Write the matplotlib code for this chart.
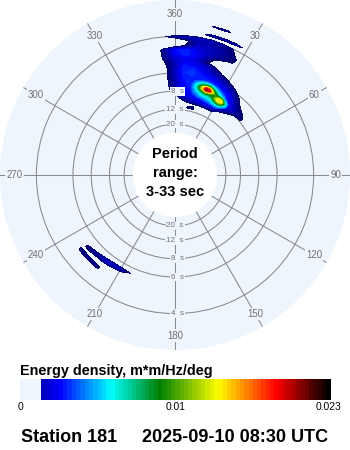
import numpy as np
import matplotlib
matplotlib.use("Agg")
import matplotlib.pyplot as plt
from matplotlib.colors import LinearSegmentedColormap, Normalize

# ------------------------------------------------------------------ data
station = "Station 181"
timestamp = "2025-09-10 08:30 UTC"
center_text = "Period\nrange:\n3-33 sec"
period_min, period_max = 3, 33            # s
energy_min, energy_max = 0.0, 0.023       # m*m/Hz/deg
energy_floor = 0.00155                    # lowest coloured level
cbar_title = "Energy density, m*m/Hz/deg"
cbar_tick_labels = ["0", "0.01", "0.023"]

ring_periods = [20, 12, 8, 6, 4]                       # s
top_ring_labels = [20, 12, 8]
bottom_ring_labels = [20, 12, 8, 6, 4]
spoke_dirs = [0, 30, 60, 90, 120, 150, 180, 210, 240, 270, 300, 330]
spoke_labels = ["360", "30", "60", "90", "120", "150", "180",
                "210", "240", "270", "300", "330"]

# NE wave system: directions (deg) x frequencies (Hz); energy in 1e-4 m*m/Hz/deg
ne_dirs = [-10, -5, 0, 5, 10, 15, 20, 25, 30, 35, 40, 45, 50, 55]
ne_freqs = [0.08, 0.09, 0.10, 0.11, 0.12, 0.13, 0.14, 0.15, 0.16, 0.17, 0.18,
            0.19, 0.20, 0.21, 0.22, 0.23, 0.24, 0.25, 0.256, 0.262, 0.268,
            0.276, 0.283, 0.29]
ne_energy = [
    [0, 0, 0, 0, 0, 0, 0, 0, 0, 0, 0, 0, 0, 0],            # 0.08
    [0, 0, 0, 0, 16, 18, 0, 0, 0, 0, 0, 0, 0, 0],          # 0.09
    [0, 0, 0, 5, 12, 14, 14, 14, 12, 5, 0, 0, 0, 0],       # 0.10
    [0, 0, 5, 20, 32, 36, 38, 40, 36, 16, 8, 0, 0, 0],     # 0.11
    [0, 5, 16, 34, 42, 45, 48, 48, 48, 40, 20, 8, 5, 0],   # 0.12
    [0, 11, 26, 38, 45, 48, 48, 48, 48, 45, 35, 23, 18, 0],  # 0.13
    [0, 13, 28, 42, 48, 48, 48, 48, 48, 45, 32, 20, 14, 0],  # 0.14
    [0, 13, 28, 44, 48, 48, 48, 48, 48, 42, 22, 12, 0, 0],   # 0.15
    [0, 13, 30, 46, 48, 48, 48, 45, 40, 30, 17, 5, 0, 0],    # 0.16
    [0, 13, 32, 48, 50, 45, 40, 35, 28, 18, 8, 0, 0, 0],     # 0.17
    [0, 13, 30, 48, 48, 40, 32, 25, 15, 8, 0, 0, 0, 0],      # 0.18
    [0, 15, 30, 42, 40, 35, 25, 10, 0, 0, 0, 0, 0, 0],       # 0.19
    [0, 20, 34, 40, 35, 18, 10, 5, 0, 0, 0, 0, 0, 0],        # 0.20
    [0, 22, 40, 48, 42, 28, 12, 0, 0, 0, 0, 0, 0, 0],        # 0.21
    [0, 22, 44, 48, 40, 32, 25, 18, 12, 0, 0, 0, 0, 0],      # 0.22
    [0, 0, 0, 18, 34, 32, 28, 22, 12, 0, 0, 0, 0, 0],        # 0.23
    [0, 0, 0, 12, 28, 28, 25, 20, 0, 0, 0, 0, 0, 0],         # 0.24
    [0, 13, 24, 28, 30, 28, 24, 16, 0, 0, 0, 0, 0, 0],       # 0.25
    [0, 0, 0, 0, 0, 0, 0, 0, 0, 0, 0, 0, 0, 0],              # 0.256
    [0, 0, 0, 0, 10, 24, 25, 24, 10, 0, 0, 0, 0, 0],         # 0.262
    [0, 0, 0, 0, 0, 0, 0, 0, 0, 0, 0, 0, 0, 0],              # 0.268
    [0, 0, 0, 0, 0, 0, 0, 0, 0, 0, 0, 0, 0, 0],              # 0.276
    [0, 0, 0, 0, 0, 18, 20, 0, 0, 0, 0, 0, 0, 0],            # 0.283
    [0, 0, 0, 0, 0, 0, 0, 0, 0, 0, 0, 0, 0, 0],              # 0.29
]

# NE energy peak, finer grid (only levels above core_floor are drawn)
core_floor = 0.0049
core_dirs = [10, 12.5, 15, 17.5, 20, 22.5, 25, 27.5, 30, 32.5, 35, 37.5, 40]
core_freqs = [0.110, 0.115, 0.120, 0.125, 0.130, 0.135, 0.140, 0.145, 0.150,
              0.155, 0.160]
core_energy = [
    [30, 32, 35, 38, 40, 42, 44, 44, 44, 40, 32, 26, 20],          # 0.110
    [38, 42, 46, 48, 50, 52, 55, 58, 60, 56, 44, 35, 28],          # 0.115
    [42, 48, 52, 56, 60, 63, 67, 76, 84, 76, 56, 40, 32],          # 0.120
    [44, 54, 62, 70, 74, 76, 82, 104, 130, 122, 76, 46, 36],       # 0.125
    [46, 60, 70, 84, 92, 92, 100, 132, 158, 155, 94, 48, 38],      # 0.130
    [48, 64, 84, 105, 130, 125, 110, 118, 145, 135, 74, 46, 36],   # 0.135
    [48, 70, 100, 150, 212, 200, 140, 100, 82, 66, 50, 42, 34],    # 0.140
    [48, 68, 95, 140, 190, 178, 115, 86, 66, 54, 44, 38, 32],      # 0.145
    [46, 60, 78, 98, 112, 104, 80, 62, 52, 46, 40, 35, 30],        # 0.150
    [44, 52, 60, 68, 72, 66, 56, 50, 46, 42, 38, 34, 30],          # 0.155
    [40, 42, 44, 46, 48, 46, 44, 42, 40, 38, 35, 32, 30],          # 0.160
]

# SW wave system
sw_dirs = [195, 200, 205, 210, 215, 220, 225, 230, 235, 240]
sw_freqs = [0.170, 0.175, 0.180, 0.185, 0.190, 0.195, 0.200, 0.205, 0.210,
            0.215, 0.220]
sw_energy = [
    [0, 0, 0, 0, 0, 0, 0, 0, 0, 0],        # 0.170
    [0, 0, 0, 0, 0, 0, 0, 0, 0, 0],        # 0.175
    [0, 0, 17, 28, 27, 14, 0, 0, 0, 0],    # 0.180
    [0, 0, 5, 24, 32, 32, 20, 10, 0, 0],   # 0.185
    [0, 0, 0, 0, 12, 22, 24, 19, 5, 0],    # 0.190
    [0, 0, 0, 0, 0, 0, 8, 18, 8, 0],       # 0.195
    [0, 0, 0, 0, 0, 0, 0, 0, 0, 0],        # 0.200
    [0, 0, 0, 0, 0, 18, 22, 20, 10, 0],    # 0.205
    [0, 0, 0, 0, 0, 18, 20, 20, 10, 0],    # 0.210
    [0, 0, 0, 0, 0, 0, 0, 0, 0, 0],        # 0.215
    [0, 0, 0, 0, 0, 0, 0, 0, 0, 0],        # 0.220
]

# ------------------------------------------------------------------ style
W, H = 350, 450
BG = "#eef5fd"
GRID = "#8a8a8a"
LABEL = "#707070"
SANS = ["Liberation Sans", "DejaVu Sans"]

stops = [(0.0, (0.0, 0.0, 0.42)), (0.124, (0.0, 0.0, 1.0)),
         (0.29, (0.0, 1.0, 1.0)), (0.45, (0.0, 0.5, 0.0)),
         (0.64, (1.0, 1.0, 0.0)), (0.83, (1.0, 0.0, 0.0)),
         (1.0, (0.0, 0.0, 0.0))]
cmap = LinearSegmentedColormap.from_list("cdip", stops, N=72)
cmap.set_under(BG)
norm = Normalize(energy_floor, energy_max)
levels = np.linspace(energy_floor, energy_max, 73)

fig = plt.figure(figsize=(W / 100, H / 100), dpi=100)
fig.patch.set_facecolor("white")


def fx(x):
    return x / W


def fy(y):
    return 1 - y / H


# polar axes: radius linear in frequency, hole at 1/33 Hz
ax = fig.add_axes([0, fy(350), 1, 350 / H], projection="polar")
ax.set_facecolor(BG)
ax.set_theta_zero_location("N")
ax.set_theta_direction(-1)
r_org = -29 / 440
ax.set_rorigin(r_org)
ax.set_rlim(1 / period_max, r_org + 175.5 / 440)
ax.set_thetagrids(spoke_dirs, labels=[""] * len(spoke_dirs))
ax.set_rgrids([1 / p for p in ring_periods], labels=[""] * len(ring_periods))
ax.grid(True, color=GRID, lw=0.75)
ax.set_axisbelow(True)
ax.tick_params(length=0)
for s in ax.spines.values():
    s.set_linewidth(0)
    s.set_edgecolor("none")
ax.patch.set_edgecolor("none")
ax.patch.set_linewidth(0)

# spectra
for dirs, freqs, energy in ((ne_dirs, ne_freqs, ne_energy),
                            (sw_dirs, sw_freqs, sw_energy)):
    ax.contourf(np.deg2rad(dirs), freqs, np.array(energy) * 1e-4,
                levels=levels, cmap=cmap, norm=norm, zorder=2)
ax.contourf(np.deg2rad(core_dirs), core_freqs, np.array(core_energy) * 1e-4,
            levels=levels[levels >= core_floor], cmap=cmap, norm=norm,
            zorder=2.1)

# direction labels
for d, lab in zip(spoke_dirs, spoke_labels):
    ax.text(np.deg2rad(d), 0.30, lab, ha="center", va="center",
            fontsize=6.9, color=LABEL, family=SANS, zorder=4,
            bbox=dict(boxstyle="square,pad=0.12", fc=BG, ec="none"))

# period labels
for theta, plist in ((0.0, top_ring_labels), (np.pi, bottom_ring_labels)):
    for p in plist:
        ax.annotate(f"{p}  s", xy=(theta, 1 / p), xytext=(6.3, 0),
                    textcoords="offset points", ha="right", va="center",
                    fontsize=5.8, color=LABEL, family=SANS, zorder=4,
                    bbox=dict(boxstyle="square,pad=0.1", fc=BG, ec="none"))

# centre text
fig.text(fx(175), fy(173), center_text, ha="center", va="center",
         fontsize=10.5, fontweight="bold", family=SANS, linespacing=1.45)

# colour bar
fig.text(fx(20), fy(371), cbar_title, ha="left", va="center",
         fontsize=10.4, fontweight="bold", family=SANS)
cax = fig.add_axes([fx(20), fy(400), 311 / W, 21 / H])
n = 622
bar = np.linspace(energy_floor, energy_max, n)
bar[: int(n * 21 / 311)] = energy_min
cax.imshow(bar[None, :], aspect="auto", cmap=cmap, norm=norm,
           extent=[0, 1, 0, 1], interpolation="nearest")
cax.set_axis_off()
for xpix, lab in zip([20.5, 176, 329], cbar_tick_labels):
    fig.text(fx(xpix), fy(407), lab, ha="center", va="center",
             fontsize=7.4, family=SANS)

fig.text(fx(21), fy(438), station, ha="left", va="center",
         fontsize=13, fontweight="bold", family=SANS)
fig.text(fx(328), fy(438), timestamp, ha="right", va="center",
         fontsize=13, fontweight="bold", family=SANS)

fig.savefig("out.png", dpi=100, facecolor="white")
